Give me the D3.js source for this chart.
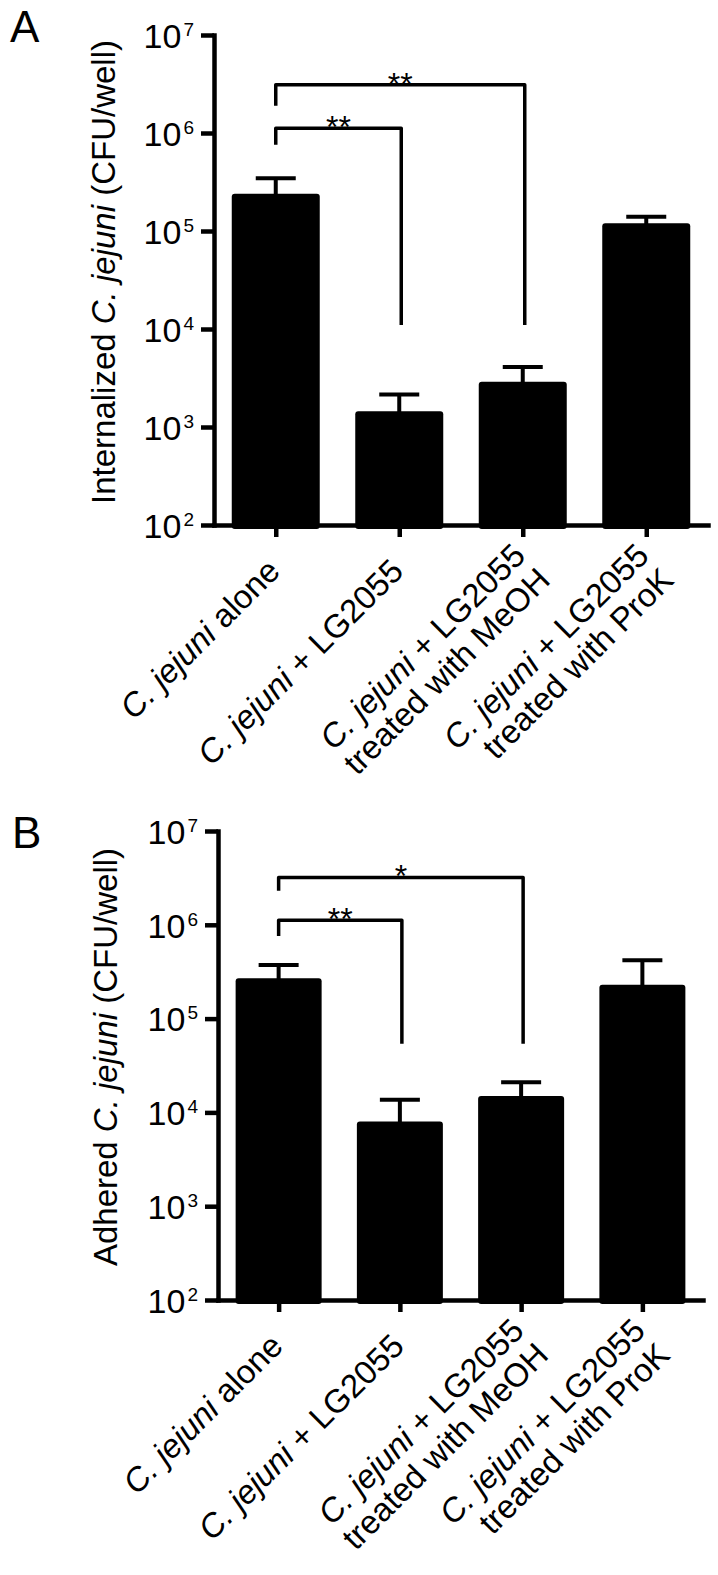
<!DOCTYPE html>
<html>
<head>
<meta charset="utf-8">
<script src="https://cdn.jsdelivr.net/npm/d3@7"></script>
<style>
  body { margin: 0; background: #fff; }
  svg text { font-family: "Liberation Sans", Arial, sans-serif; fill: #000; }
</style>
</head>
<body>
<svg id="fig" width="718" height="1575"></svg>
<script>
// values (CFU/well, mean and SEM)
var categories = ["C. jejuni alone", "C. jejuni + LG2055",
                  "C. jejuni + LG2055\ntreated with MeOH", "C. jejuni + LG2055\ntreated with ProK"];
var yTicks = [1e2, 1e3, 1e4, 1e5, 1e6, 1e7];

var internalizedMean = [2.4e5, 1.45e3, 2.9e3, 1.2e5];
var internalizedSem  = [1.05e5, 0.7e3, 1.2e3, 0.2e5];
var adheredMean = [2.7e5, 8.0e3, 1.5e4, 2.3e5];
var adheredSem  = [1.03e5, 5.6e3, 6.0e3, 1.9e5];

// brackets: from, to, bar level, left foot, right foot, stars
var internalizedSig = [[0, 1, 1.12e6, 7.6e5, 1.1e4, "**"], [0, 2, 3.1e6, 1.9e6, 1.1e4, "**"]];
var adheredSig      = [[0, 1, 1.12e6, 7.6e5, 5.4e4, "**"], [0, 2, 3.2e6, 2.3e6, 5.4e4, "*"]];

var panels = [
  {letter: "A", lx: 10, ly: 42, title: "Internalized ", mean: internalizedMean, sem: internalizedSem, sig: internalizedSig,
   x0: 214, x1: 708, y0: 525, y1: 35, barW: 88, tx: 115, ty: 272},
  {letter: "B", lx: 12, ly: 848, title: "Adhered ", mean: adheredMean, sem: adheredSem, sig: adheredSig,
   x0: 218, x1: 703, y0: 1300, y1: 831, barW: 86, tx: 117, ty: 1057}
];

var svg = d3.select("#fig");
svg.append("rect").attr("width", 718).attr("height", 1575).attr("fill", "#fff");

function drawPanel(p) {
  var g = svg.append("g");
  var x = d3.scalePoint().domain(d3.range(categories.length)).range([p.x0, p.x1]).padding(0.5);
  var y = d3.scaleLog().domain([1e2, 1e7]).range([p.y0, p.y1]);

  // bars
  g.selectAll("rect.bar").data(p.mean).join("rect")
      .attr("class", "bar")
      .attr("x", function(d, i) { return x(i) - p.barW / 2; })
      .attr("y", function(d) { return y(d); })
      .attr("width", p.barW)
      .attr("height", function(d) { return p.y0 - y(d) + 4; })
      .attr("rx", 3)
      .attr("fill", "#000");

  // error bars (upper only)
  var eb = g.selectAll("g.err").data(p.mean).join("g").attr("class", "err");
  eb.append("line")
      .attr("x1", function(d, i) { return x(i); })
      .attr("x2", function(d, i) { return x(i); })
      .attr("y1", function(d) { return y(d) + 2; })
      .attr("y2", function(d, i) { return y(d + p.sem[i]); });
  eb.append("line")
      .attr("x1", function(d, i) { return x(i) - 20; })
      .attr("x2", function(d, i) { return x(i) + 20; })
      .attr("y1", function(d, i) { return y(d + p.sem[i]); })
      .attr("y2", function(d, i) { return y(d + p.sem[i]); });
  eb.selectAll("line").attr("stroke", "#000").attr("stroke-width", 4);

  // axes
  var yAxis = d3.axisLeft(y).tickValues(yTicks).tickSize(13).tickSizeOuter(0).tickPadding(7).tickFormat("");
  var ya = g.append("g").attr("transform", "translate(" + p.x0 + ",0)").call(yAxis);
  ya.selectAll(".tick text").each(function(d) {
    var t = d3.select(this).text(null).attr("dy", "0.36em").attr("font-size", 34);
    t.append("tspan").text("10");
    t.append("tspan").attr("dx", 2).attr("dy", -12).attr("font-size", 19).text(Math.round(Math.log10(d)));
  });

  var xAxis = d3.axisBottom(x).tickSize(12).tickSizeOuter(0).tickFormat("");
  var xa = g.append("g").attr("transform", "translate(0," + p.y0 + ")").call(xAxis);

  [ya, xa].forEach(function(a) {
    a.attr("font-family", null).attr("font-size", null);
    a.select(".domain").attr("stroke", "#000").attr("stroke-width", 4.5).attr("stroke-linecap", "square");
    a.selectAll(".tick line").attr("stroke", "#000").attr("stroke-width", 4.5);
  });

  // category labels, rotated; two-line blocks are lifted a bit
  categories.forEach(function(c, i) {
    var lines = c.split("\n");
    var multi = lines.length > 1;
    var t = g.append("text")
        .attr("transform", "translate(" + (x(i) + 6) + "," + (p.y0 + 48) + ") rotate(-45)")
        .attr("text-anchor", "end")
        .attr("font-size", 33);
    lines.forEach(function(line, k) {
      var parts = line.indexOf("C. jejuni") === 0 ? [["C. jejuni", true], [line.slice(9), false]] : [[line, false]];
      parts.forEach(function(pt, j) {
        var s = t.append("tspan").text(pt[0]).attr("font-style", pt[1] ? "italic" : "normal");
        if (j === 0) s.attr("x", multi ? 10 : 0).attr("dy", k === 0 ? (multi ? -12 : 0) : "1.05em");
      });
    });
  });

  // y title
  var title = g.append("text")
      .attr("transform", "translate(" + p.tx + "," + p.ty + ") rotate(-90)")
      .attr("text-anchor", "middle")
      .attr("font-size", 33);
  title.append("tspan").text(p.title);
  title.append("tspan").attr("font-style", "italic").text("C. jejuni");
  title.append("tspan").text(" (CFU/well)");

  // significance brackets
  p.sig.forEach(function(s) {
    var xl = x(s[0]), xr = x(s[1]) + 2;
    g.append("path")
        .attr("d", "M" + xl + "," + y(s[3]) + "V" + y(s[2]) + "H" + xr + "V" + y(s[4]))
        .attr("fill", "none").attr("stroke", "#000").attr("stroke-width", 3.5)
        .attr("stroke-linejoin", "round");
    g.append("text")
        .attr("x", (xl + xr) / 2).attr("y", y(s[2]) + 10)
        .attr("text-anchor", "middle").attr("font-size", 32)
        .text(s[5]);
  });

  // panel letter
  svg.append("text").attr("x", p.lx).attr("y", p.ly).attr("font-size", 44).text(p.letter);
}

panels.forEach(drawPanel);
</script>
</body>
</html>
